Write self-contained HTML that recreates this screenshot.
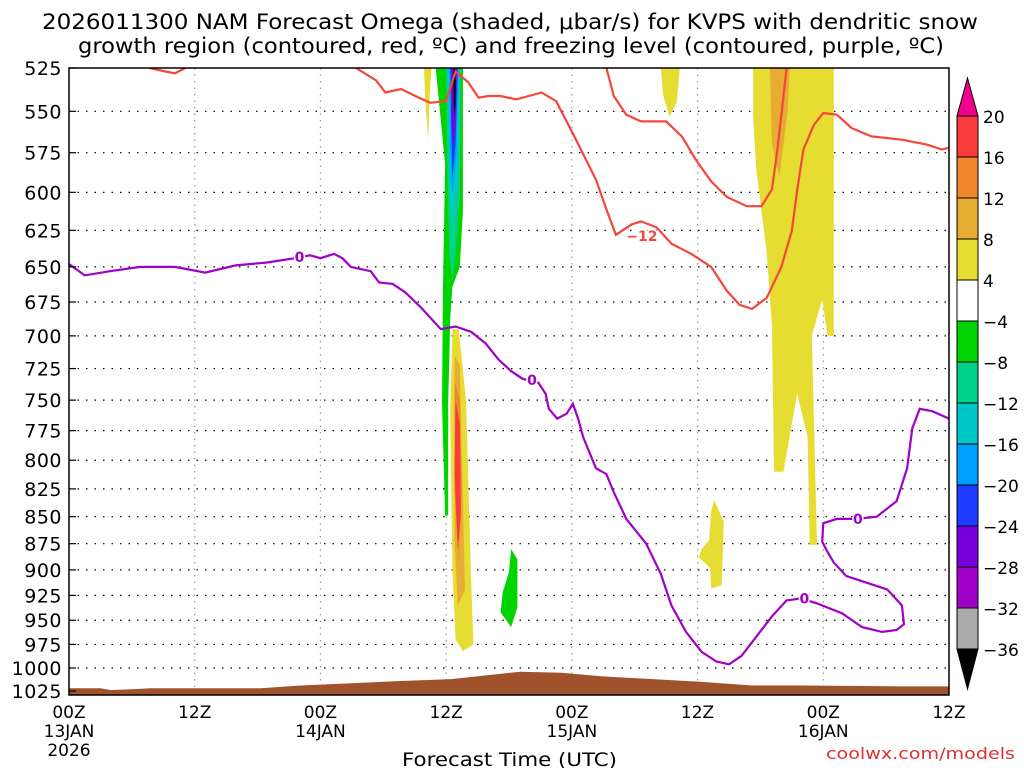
<!DOCTYPE html>
<html><head><meta charset="utf-8">
<style>
html,body{margin:0;padding:0;background:#fff;}
svg{display:block;font-family:"DejaVu Sans","Liberation Sans",sans-serif;}
</style></head>
<body>
<svg id="chart" width="1024" height="768" viewBox="0 0 1024 768" xmlns="http://www.w3.org/2000/svg">
<defs><clipPath id="plotclip"><rect x="69" y="68" width="880" height="627"/></clipPath></defs>
<text x="42" y="29" font-size="21" textLength="936" lengthAdjust="spacingAndGlyphs">2026011300 NAM Forecast Omega (shaded, μbar/s) for KVPS with dendritic snow</text>
<text x="78" y="53" font-size="21" textLength="866" lengthAdjust="spacingAndGlyphs">growth region (contoured, red, ºC) and freezing level (contoured, purple, ºC)</text>
<g id="grid"></g>
<g id="shade" clip-path="url(#plotclip)"></g>
<g id="terrain" clip-path="url(#plotclip)"></g>
<g id="lines" clip-path="url(#plotclip)"></g>
<rect x="69" y="68" width="880" height="627" fill="none" stroke="#000" stroke-width="1.5"/>
<g id="yaxis"></g>
<g id="xaxis"></g>
<g id="cbar"></g>
<text x="402" y="766" font-size="19" textLength="215" lengthAdjust="spacingAndGlyphs">Forecast Time (UTC)</text>
<text x="826" y="759" font-size="16" fill="#e03030" textLength="189" lengthAdjust="spacingAndGlyphs">coolwx.com/models</text>
</svg>
<script>
const pressureTicks=[525,550,575,600,625,650,675,700,725,750,775,800,825,850,875,900,925,950,975,1000,1025];
const hourTicks=[0,12,24,36,48,60,72,84];
const hourLabels=["00Z","12Z","00Z","12Z","00Z","12Z","00Z","12Z"];
const dayLabels=["13JAN","","14JAN","","15JAN","","16JAN",""];
const cbarLevels=["20","16","12","8","4","-4","-8","-12","-16","-20","-24","-28","-32","-36"];
const cbarColors=["#f83c3c","#f0872d","#e6ad32","#e6dc32","#ffffff","#00d400","#00d28c","#00c8c8","#00a0ff","#1e3cff","#7800dc","#a000c8","#aaaaaa"];
// freezing level (0C)
const freezeLine=[[0,648],[1.5,656],[3.9,653],[6.8,650],[10.1,650],[13,654],[15.9,649],[18.8,647],[21.6,644],[23,642],[24,644],[25.3,641],[26.1,644],[26.9,650],[28.8,653],[29.6,661],[30.9,662],[32.1,668],[33.6,679],[35.5,695],[36.9,693],[38.4,697],[39.8,706],[41,718],[42.2,727],[43.3,733],[44.8,736],[45.5,745],[45.8,757],[46.6,765],[47.5,761],[48.1,753],[48.6,765],[49.1,781],[50.3,807],[51.3,812],[52,828],[53.2,852],[55.1,875],[56.5,904],[57.5,935],[58.9,962],[60.4,983],[61.8,993],[63,996],[64.2,987],[65.6,967],[67.1,946],[68.5,930],[69.9,928],[71.4,933],[73.8,943],[75.7,957],[77.6,962],[79,960],[79.7,954],[79.5,935],[78.1,919],[75.7,911],[74.2,906],[73,893],[72.3,881],[71.9,873],[72,856],[73.3,852],[75.2,852],[77.1,850],[79,836],[80,807],[80.5,773],[81.2,757],[82.4,759],[84,765]];
const freezeLabels=[[22,643],[44.2,734],[75.3,852],[70.2,928]];
// dendritic (-12C) lines
const redA=[[7.7,525],[9.2,527],[10.1,528],[11.1,525]];
const redB=[[27.4,525],[29.3,532],[30.2,539],[31.7,537],[33.4,542],[34.5,545],[36,544],[36.9,527],[38.1,533],[39.1,542],[40,541],[41.2,541],[42.7,543],[45.1,539],[46.5,544],[48.4,567],[50.3,592],[51.3,611],[52.2,628],[53.7,621],[54.6,619],[56.1,623],[57.5,634],[59.4,641],[61.3,650],[62.8,667],[64,677],[65.2,680],[66.6,672],[68,650],[69,625],[69.5,599],[70.1,573],[71.1,558],[72,551],[73.3,552],[74.7,560],[76.6,565],[79.5,567],[81.9,570],[83.3,573],[84,572]];
const redC=[[51.3,525],[52,541],[53.2,552],[54.6,556],[57,556],[58.5,565],[59.9,580],[61.3,593],[62.8,603],[64.7,609],[66.1,609],[67.1,598],[67.6,574],[68,552],[68.5,525]];
const redLabel=[53.2,628];
// omega shaded areas [colorIndex, points]
const omegaAreas=[
 [3,[[33.9,525],[34.6,525],[34.4,543],[34.3,567],[34.0,543]]],
 [5,[[35.0,525],[37.6,525],[37.6,612],[37.3,650],[36.6,664],[36.4,686],[36.2,752],[36.2,849],[35.9,849],[35.6,752],[35.7,664],[35.9,582]]],
 [6,[[36.0,525],[37.4,525],[37.3,600],[36.9,640],[36.6,660],[36.3,640],[36.1,580]]],
 [7,[[36.1,525],[37.3,525],[37.1,590],[36.7,625],[36.3,590]]],
 [8,[[36.3,525],[37.2,525],[37.0,575],[36.6,603],[36.4,575]]],
 [9,[[36.4,525],[37.1,525],[36.9,570],[36.6,590],[36.5,565]]],
 [10,[[36.5,525],[37.0,525],[36.9,555],[36.7,572],[36.5,555]]],
 [12,[[36.7,525],[36.9,525],[36.9,545],[36.8,552],[36.7,545]]],
 [3,[[36.6,695],[37.2,695],[37.9,750],[38.4,915],[38.6,975],[37.6,982],[36.9,970],[36.6,900],[36.4,760]]],
 [2,[[36.8,715],[37.3,722],[37.5,800],[37.8,920],[37.1,935],[36.8,870]]],
 [1,[[36.8,735],[37.3,750],[37.5,826],[37.2,890],[36.8,826]]],
 [0,[[36.9,750],[37.3,770],[37.4,850],[37.1,880],[36.8,810]]],
 [5,[[42.2,880],[42.8,890],[42.8,937],[42.2,957],[41.2,942],[41.4,922],[42.0,902]]],
 [3,[[56.5,525],[58.3,525],[58.0,545],[57.3,553],[56.7,540]]],
 [3,[[61.6,835],[62.5,855],[62.3,915],[61.3,918],[61.2,898],[60.1,888],[60.4,880],[61.1,872],[61.3,845]]],
 [3,[[65.3,525],[73.0,525],[73.0,700],[72.4,700],[71.9,673],[70.9,700],[71.1,765],[71.4,876],[70.7,876],[70.5,780],[69.5,745],[68.2,810],[67.3,810],[67.1,693],[66.6,640],[65.6,585],[65.3,552]]],
 [2,[[66.9,525],[68.8,525],[68.6,550],[67.8,590],[67.1,570]]]
];
// terrain surface pressure
const terrain=[[0,1022],[3,1022],[4,1024],[6,1023],[7.8,1022],[18.3,1022],[22.1,1019],[31.7,1014],[36.5,1012],[43.1,1004],[47,1005],[50.8,1009],[60.4,1015],[65.2,1019],[70,1019],[79.5,1020],[84,1020]];

const X0=69,XW=880,Y0=68,YH=623,P0=525,P1=1025;
const xs=h=>X0+h/84*XW;
const ys=p=>Y0+(Math.log(p)-Math.log(P0))/(Math.log(P1)-Math.log(P0))*YH;
const NS="http://www.w3.org/2000/svg";
function mk(tag,attrs,parent){const e=document.createElementNS(NS,tag);for(const k in attrs)e.setAttribute(k,attrs[k]);parent.appendChild(e);return e;}
const pts=a=>a.map(d=>xs(d[0]).toFixed(1)+","+ys(d[1]).toFixed(1)).join(" ");

const grid=document.getElementById('grid'),yax=document.getElementById('yaxis'),xax=document.getElementById('xaxis');
pressureTicks.forEach(p=>{
  const y=ys(p);
  if(p>525&&p<1025){const l=mk('line',{x1:X0,x2:X0+XW,y1:y,y2:y,stroke:'#000','stroke-width':1.2,'stroke-dasharray':'1.5,7'},grid);
  
  }
  const tk=mk('line',{x1:X0,x2:X0+7,y1:y,y2:y,stroke:'#000','stroke-width':1.2},yax);
  
  
  const t=mk('text',{x:62,y:y+7,'font-size':19,'text-anchor':'end','letter-spacing':'0.5'},yax);
  
  
  t.textContent=p;
});
hourTicks.forEach((h,i)=>{
  const x=xs(h);
  if(i>0&&i<hourTicks.length-1){const l=mk('line',{x1:x,x2:x,y1:Y0,y2:Y0+627,stroke:'#999','stroke-width':1.2,'stroke-dasharray':'1.5,5'},grid);
  
  }
  const t=mk('text',{x:x,y:718,'font-size':17,'text-anchor':'middle'},xax);
  
  
  t.textContent=hourLabels[i];
  if(dayLabels[i]){const d=mk('text',{x:x,y:737,'font-size':17,'text-anchor':'middle'},xax);
  
  
  d.textContent=dayLabels[i];}
});
const yr=mk('text',{x:xs(0),y:756,'font-size':17,'text-anchor':'middle'},xax);


yr.textContent="2026";

const shade=document.getElementById('shade');
omegaAreas.forEach((a,i)=>{
  const p=mk('polygon',{points:pts(a[1]),fill:a[0]===12?'#000':cbarColors[a[0]]},shade);
  
  
});
const ter=document.getElementById('terrain');
const tp=mk('polygon',{points:pts(terrain)+" "+xs(84)+","+(Y0+630)+" "+xs(0)+","+(Y0+630),fill:'#a0522d'},ter);



const lines=document.getElementById('lines');
[[redA,'red-a'],[redB,'red-b'],[redC,'red-c']].forEach(r=>{
  const l=mk('polyline',{points:pts(r[0]),fill:'none',stroke:'#f5463c','stroke-width':2.2},lines);
  
  
});
const fl=mk('polyline',{points:pts(freezeLine),fill:'none',stroke:'#a000c8','stroke-width':2.2},lines);


freezeLabels.forEach((d,i)=>{
  const t=mk('text',{x:xs(d[0]),y:ys(d[1])+5,'font-size':14,'font-weight':'bold',fill:'#a000c8','text-anchor':'middle',stroke:'#fff','stroke-width':3,'paint-order':'stroke'},lines);
  
  
  t.textContent="0";
});
const rl=mk('text',{x:xs(redLabel[0]),y:ys(redLabel[1])+6,'font-size':14,'font-weight':'bold',fill:'#f5463c',stroke:'#fff','stroke-width':3,'paint-order':'stroke'},lines);


rl.textContent="−12";

const cb=document.getElementById('cbar');
const cx=957,cw=21,ct=116,step=41;
const tri=mk('polygon',{points:`${cx},${ct} ${cx+cw},${ct} ${cx+cw/2},${ct-38}`,fill:'#f0008c',stroke:'#000','stroke-width':1},cb);


cbarColors.forEach((c,i)=>{
  const r=mk('rect',{x:cx,y:ct+i*step,width:cw,height:step,fill:c,stroke:'#000','stroke-width':1},cb);
  
  
});
const by=ct+cbarColors.length*step;
const tri2=mk('polygon',{points:`${cx},${by} ${cx+cw},${by} ${cx+cw/2},${by+40}`,fill:'#000',stroke:'#000','stroke-width':1},cb);


cbarLevels.forEach((s,i)=>{
  const t=mk('text',{x:983,y:ct+i*step+7,'font-size':17},cb);
  
  
  t.textContent=s.replace('-','−');
});
</script>
</body></html>
